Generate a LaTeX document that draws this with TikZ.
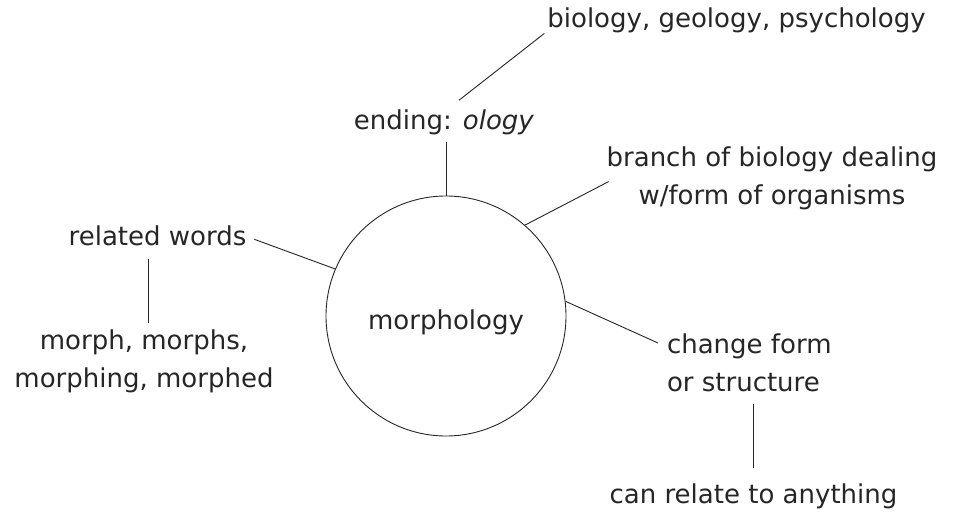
\documentclass[tikz,border=0pt]{standalone}
\usepackage{fontspec}
\setmainfont{DejaVu Sans}
\begin{document}
\begin{tikzpicture}[x=1pt,y=-1pt,
  lbl/.style={inner sep=0pt, outer sep=0pt, font=\fontsize{26}{38}\selectfont, text=black!85},
  link/.style={draw=black!85, line width=0.9pt}]
\useasboundingbox (0,0) rectangle (956,516);
\fill[white] (0,0) rectangle (956,516);
% centre
\node[circle, draw=black!85, line width=0.9pt, minimum size=240pt, inner sep=0pt,
      text height=32pt, text depth=6pt,
      font=\fontsize{26}{38}\selectfont, text=black!85] (m) at (446,316) {morphology};
% labels
\node[lbl, anchor=base] (bio) at (736.5,28) {biology, geology, psychology};
\node[lbl, anchor=base] (ending) at (444,130) {ending: \textit{ology}};
\node[lbl, anchor=north, align=center] (branch) at (772,147) {branch of biology dealing\\w/form of organisms};
\node[lbl, anchor=base] (related) at (157.5,245) {related words};
\node[lbl, anchor=north, align=center] (morph) at (144,330) {morph, morphs,\\morphing, morphed};
\node[lbl, anchor=north west, align=left] (change) at (667,334) {change form\\or structure};
\node[lbl, anchor=base] (can) at (753.5,503) {can relate to anything};
% connectors
\draw[link] ([xshift=-3pt]bio.south west) -- ([shift={(15pt,10pt)}]ending.north);
\draw[link] (m.north) -- ([yshift=-7pt]m.north |- ending.south);
\draw[link] (m.49) -- ([shift={(2pt,-3pt)}]branch.west);
\draw[link] (m.157) -- ([shift={(8pt,-4pt)}]related.east);
\draw[link] ([yshift=-14pt]related.south -| morph.north) ++(4pt,0) coordinate (rtop) -- ([xshift=4pt,yshift=7pt]morph.north);
\draw[link] (m.7) -- ([shift={(-9pt,-9pt)}]change.north west);
\draw[link] ([yshift=15pt]can.north) -- ([yshift=-12pt]can.north |- change.south);
\end{tikzpicture}
\end{document}
